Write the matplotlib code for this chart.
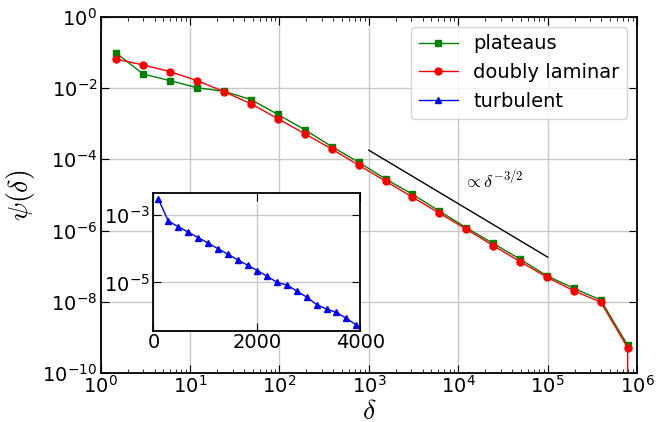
import numpy as np
import matplotlib
matplotlib.use("Agg")
import matplotlib.pyplot as plt

# log-binned centres (main plot)
delta = [1.5, 3, 6, 12, 24, 48, 96, 192, 384, 768, 1536, 3072, 6144,
         12288, 24576, 49152, 98304, 196608, 393216, 786432]

# log10 of psi
log_plateaus = [-1.02, -1.61, -1.79, -1.99, -2.09, -2.32, -2.74, -3.17, -3.64, -4.08,
                -4.55, -4.98, -5.45, -5.92, -6.36, -6.80, -7.27, -7.62, -7.95, -9.22]
log_laminar = [-1.19, -1.35, -1.54, -1.79, -2.10, -2.44, -2.86, -3.28, -3.71, -4.16,
               -4.61, -5.06, -5.51, -5.96, -6.42, -6.87, -7.31, -7.69, -8.01, -9.29]
# last laminar bin drops below the axis range
delta_laminar = delta + [786432]
log_laminar = log_laminar + [-12.0]

# inset: turbulent, linear bins
delta_turb = [97, 290, 484, 675, 866, 1057, 1248, 1439, 1630, 1821, 2012, 2203, 2394,
              2585, 2776, 2967, 3158, 3349, 3540, 3731, 3922]
log_turb = [-2.53, -3.18, -3.35, -3.51, -3.67, -3.83, -4.00, -4.16, -4.33, -4.49, -4.65,
            -4.82, -5.00, -5.08, -5.26, -5.44, -5.66, -5.79, -5.89, -6.07, -6.26]

# guide line prop to delta^-3/2
guide_x = [1e3, 1e5]
guide_c = 5.7

plt.rcParams['font.size'] = 14
plt.rcParams['xtick.direction'] = 'in'
plt.rcParams['ytick.direction'] = 'in'
plt.rcParams['xtick.top'] = True
plt.rcParams['ytick.right'] = True
plt.rcParams['xtick.major.size'] = 6
plt.rcParams['ytick.major.size'] = 6
plt.rcParams['xtick.minor.size'] = 3
plt.rcParams['ytick.minor.size'] = 3
plt.rcParams['xtick.major.pad'] = 1.5
plt.rcParams['ytick.major.pad'] = 2.5
plt.rcParams['axes.linewidth'] = 1.3

fig = plt.figure(figsize=(6.67, 4.22), dpi=100)
ax = fig.add_axes([0.151, 0.116, 0.804, 0.844])

ax.plot(delta, 10**np.array(log_plateaus), 'g-s', ms=5, lw=1, label='plateaus')
ax.plot(delta_laminar, 10**np.array(log_laminar), 'r-o', ms=5, lw=1, label='doubly laminar')
ax.plot([], [], 'b-^', ms=5, lw=1, label='turbulent')
gx = np.array(guide_x)
ax.plot(gx, guide_c * gx**-1.5, 'k-', lw=1)
ax.text(1.13e4, 10**-4.58, r'$\propto\delta^{-3/2}$', fontsize=13,
        ha='left', va='center', math_fontfamily='cm')

ax.set_xscale('log')
ax.set_yscale('log')
ax.set_xlim(1, 1e6)
ax.set_ylim(1e-10, 1)
ax.yaxis.set_major_locator(matplotlib.ticker.LogLocator(base=10, numticks=6))
ax.yaxis.set_minor_locator(matplotlib.ticker.NullLocator())
ax.grid(True, color='#c8c8c8', lw=1)
ax.set_xlabel(r'$\delta$', fontsize=20, math_fontfamily='cm', labelpad=0)
ax.set_ylabel(r'$\psi(\delta)$', fontsize=20, math_fontfamily='cm', labelpad=4)
ax.legend(loc='upper right', fontsize=14)

ins = fig.add_axes([0.230, 0.216, 0.310, 0.327])
ins.plot(delta_turb, 10**np.array(log_turb), 'b-^', ms=5, lw=1)
ins.set_yscale('log')
ins.set_xlim(0, 4000)
ins.set_ylim(10**-6.44, 10**-2.34)
ins.set_xticks([0, 2000, 4000])
ins.yaxis.set_major_locator(matplotlib.ticker.FixedLocator([1e-3, 1e-5]))
ins.yaxis.set_minor_locator(matplotlib.ticker.NullLocator())
ins.grid(True, color='#c8c8c8', lw=1)

fig.savefig('out.png', dpi=100)
